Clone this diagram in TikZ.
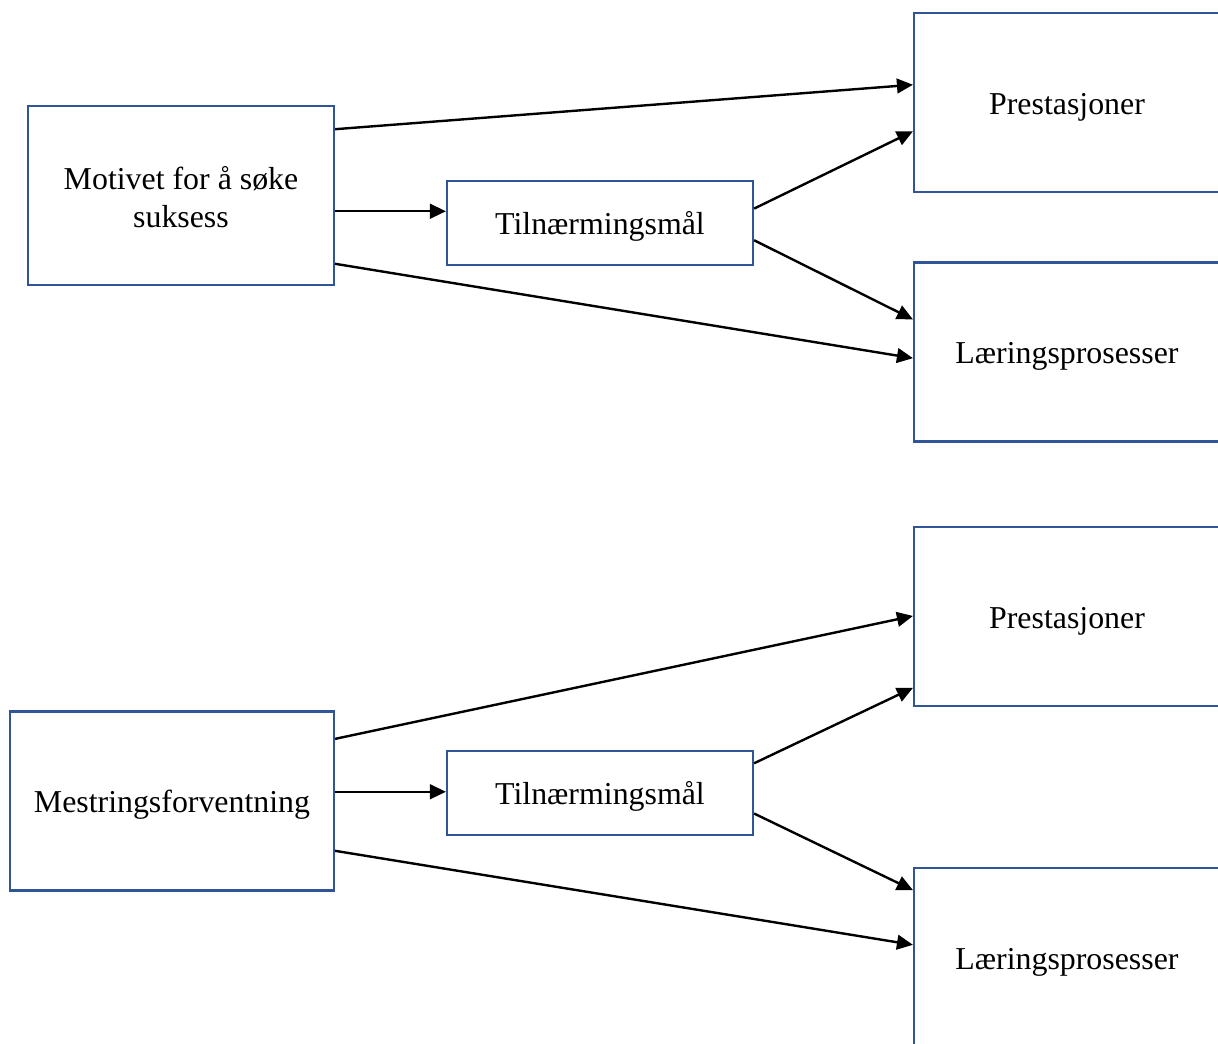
\documentclass[tikz,border=0pt]{standalone}
\usepackage{fontspec}
\setmainfont{Liberation Serif}
\usetikzlibrary{arrows.meta,calc}
\definecolor{boxblue}{HTML}{2F5597}
\tikzset{
  boxnode/.style={draw=boxblue, line width=1.6pt, fill=white, inner sep=0pt,
    minimum width=229.5pt, minimum height=134.25pt, align=center,
    font=\fontsize{23.9}{28.5}\selectfont},
  oneline/.style={text height=23pt, text depth=5.2pt},
  goalnode/.style={boxnode, oneline, minimum height=63pt},
  link/.style={line width=1.8pt, -{Triangle[length=12pt,width=11pt]}}
}
\begin{document}
\begin{tikzpicture}[x=0.75pt,y=-0.75pt]
\useasboundingbox (0,0) rectangle (1218,1043);
\clip (0,0) rectangle (1218,1043);

% upper model
\node[boxnode] (A)  at (181,195.5) {\rule{0pt}{20pt}Motivet for å søke\\suksess};
\node[goalnode] (T1) at (600,223) {Tilnærmingsmål};
\node[boxnode, oneline] (P1) at (1067,102.5) {Prestasjoner};
\node[boxnode, oneline] (L1) at (1067,352) {Læringsprosesser};

\coordinate (a2) at ($(A.north east)!0.587!(A.south east)$);
\draw[link] ($(A.north east)!0.134!(A.south east)$) -- ($(P1.north west)!0.402!(P1.south west)$);
\draw[link] (a2) -- (T1.west |- a2);
\draw[link] ($(A.north east)!0.877!(A.south east)$) -- ($(L1.north west)!0.534!(L1.south west)$);
\draw[link] ($(T1.north east)!0.333!(T1.south east)$) -- ($(P1.north west)!0.659!(P1.south west)$);
\draw[link] ($(T1.north east)!0.70!(T1.south east)$) -- ($(L1.north west)!0.32!(L1.south west)$);

% lower model
\node[boxnode, oneline, minimum width=243pt] (M) at (172,801) {Mestringsforventning};
\node[goalnode] (T2) at (600,793) {Tilnærmingsmål};
\node[boxnode, oneline] (P2) at (1067,616.5) {Prestasjoner};
\node[boxnode, oneline] (L2) at (1067,957.5) {Læringsprosesser};

\coordinate (m2) at ($(M.north east)!0.449!(M.south east)$);
\draw[link] ($(M.north east)!0.157!(M.south east)$) -- ($(P2.north west)!0.497!(P2.south west)$);
\draw[link] (m2) -- (T2.west |- m2);
\draw[link] ($(M.north east)!0.775!(M.south east)$) -- ($(L2.north west)!0.43!(L2.south west)$);
\draw[link] ($(T2.north east)!0.155!(T2.south east)$) -- ($(P2.north west)!0.894!(P2.south west)$);
\draw[link] ($(T2.north east)!0.738!(T2.south east)$) -- ($(L2.north west)!0.128!(L2.south west)$);
\end{tikzpicture}
\end{document}
